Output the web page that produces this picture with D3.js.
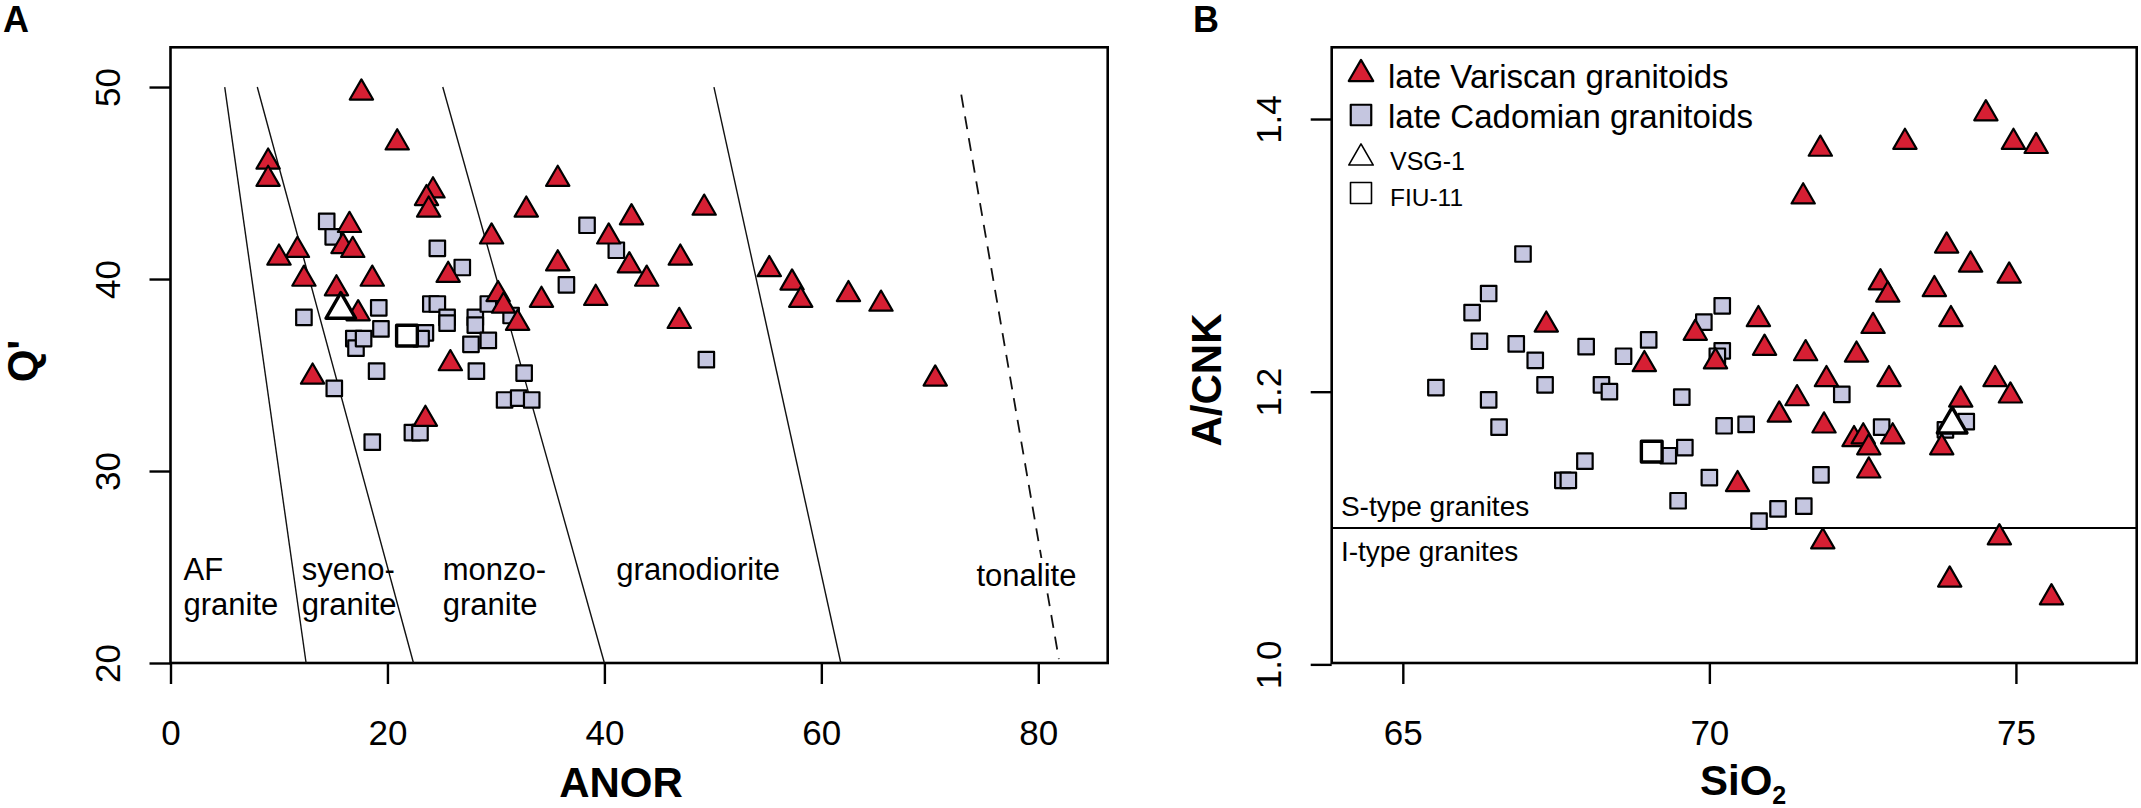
<!DOCTYPE html>
<html>
<head>
<meta charset="utf-8">
<script src="https://cdn.jsdelivr.net/npm/d3@7"></script>
<style>
  body { margin: 0; background: #fff; }
  svg text { font-family: "Liberation Sans", Arial, Helvetica, sans-serif; fill: #000; }
</style>
</head>
<body>
<svg id="chart" width="2141" height="808"></svg>
<script>
// ---- panel A: ANOR vs Q' ----
const anorTicks = [0, 20, 40, 60, 80];
const qTicks = [20, 30, 40, 50];

const varA = [
  [17.6, 49.7], [20.9, 47.1], [9.0, 46.1], [9.0, 45.2], [35.7, 45.2], [24.2, 44.6],
  [23.6, 44.2], [23.8, 43.6], [32.8, 43.6], [49.2, 43.7], [42.5, 43.2], [16.5, 42.8],
  [29.6, 42.2], [40.4, 42.2], [15.9, 41.7], [11.7, 41.5], [10.0, 41.1], [16.8, 41.5],
  [42.3, 40.7], [35.7, 40.8], [47.0, 41.1], [55.2, 40.5], [25.6, 40.2], [12.3, 40.0],
  [18.6, 40.0], [43.9, 40.0], [57.3, 39.8], [15.3, 39.5], [30.2, 39.2], [39.2, 39.0],
  [34.2, 38.9], [58.1, 38.9], [30.7, 38.6], [17.3, 38.2], [46.9, 37.8], [32.0, 37.7],
  [25.8, 35.6], [23.5, 32.7], [13.1, 34.9], [62.5, 39.2], [65.5, 38.7], [70.5, 34.8]
];
const cadA = [
  [14.4, 43.0], [15.0, 42.2], [12.3, 38.0], [16.9, 36.9], [17.1, 36.4], [17.8, 36.9],
  [19.2, 38.5], [19.4, 37.4], [23.5, 37.2], [23.1, 36.9], [26.9, 40.6], [24.6, 41.6],
  [24.0, 38.7], [24.6, 38.7], [25.5, 38.0], [25.5, 37.7], [19.0, 35.2], [28.2, 35.2],
  [22.3, 32.0], [23.0, 32.0], [18.6, 31.5], [28.1, 38.0], [28.1, 37.6], [29.3, 38.7],
  [27.7, 36.6], [29.3, 36.8], [31.4, 38.1], [32.6, 35.1], [30.8, 33.7], [32.1, 33.8],
  [33.3, 33.7], [36.5, 39.7], [38.4, 42.8], [41.1, 41.5], [49.4, 35.8], [15.1, 34.3]
];
const vsgA = [[15.7, 38.4]];
const fiuA = [[21.8, 37.05]];

// field boundaries (ANOR, Q'), top end then bottom end
const fieldLines = [
  [[5.0, 50], [12.5, 20]],
  [[8.0, 50], [22.4, 20]],
  [[25.1, 50], [40.0, 20]],
  [[50.1, 50], [61.8, 20]]
];
const tonaliteLine = [[72.9, 49.6], [81.9, 20.2]];
const fieldLabels = [
  {lines: ["AF", "granite"], anor: 1.2, q: 24.3},
  {lines: ["syeno-", "granite"], anor: 12.1, q: 24.3},
  {lines: ["monzo-", "granite"], anor: 25.1, q: 24.3},
  {lines: ["granodiorite"], anor: 41.1, q: 24.3},
  {lines: ["tonalite"], anor: 74.3, q: 24.0, halo: true}
];

// ---- panel B: SiO2 vs A/CNK ----
const sioTicks = [65, 70, 75];
const acnkTicks = [1.0, 1.2, 1.4];

const varB = [
  [67.34, 1.249], [68.94, 1.220], [69.77, 1.243], [74.51, 1.404], [74.96, 1.383],
  [75.33, 1.380], [73.19, 1.383], [71.81, 1.378], [71.53, 1.343], [73.87, 1.307],
  [74.26, 1.293], [74.89, 1.285], [72.79, 1.280], [72.91, 1.271], [73.67, 1.275],
  [70.80, 1.253], [73.94, 1.253], [72.67, 1.248], [70.90, 1.232], [71.57, 1.228],
  [72.40, 1.227], [70.10, 1.222], [71.91, 1.209], [72.93, 1.209], [74.66, 1.209],
  [74.91, 1.197], [71.43, 1.195], [71.14, 1.183], [71.87, 1.175], [74.10, 1.194],
  [73.79, 1.159], [72.36, 1.165], [72.51, 1.167], [72.60, 1.159], [72.99, 1.167],
  [72.60, 1.142], [70.46, 1.132], [71.85, 1.090], [74.73, 1.093], [73.92, 1.062],
  [75.58, 1.049]
];
const cadB = [
  [66.96, 1.301], [66.40, 1.272], [66.13, 1.258], [66.25, 1.237], [66.85, 1.235],
  [67.16, 1.223], [67.99, 1.233], [68.60, 1.226], [69.01, 1.238], [69.91, 1.251],
  [70.21, 1.263], [65.54, 1.203], [66.40, 1.194], [67.32, 1.205], [68.24, 1.205],
  [68.37, 1.200], [69.55, 1.196], [66.57, 1.174], [67.61, 1.135], [67.70, 1.135],
  [67.97, 1.149], [69.33, 1.153], [69.60, 1.159], [69.49, 1.120], [70.81, 1.105],
  [71.12, 1.114], [71.54, 1.116], [70.00, 1.137], [71.82, 1.139], [70.21, 1.230],
  [70.13, 1.226], [72.16, 1.198], [70.24, 1.175], [70.60, 1.176], [72.81, 1.174],
  [73.85, 1.172], [74.19, 1.178]
];
const vsgB = [[73.96, 1.176]];
const fiuB = [[69.06, 1.156]];
const sIBoundary = 1.1;
const typeLabels = [
  {text: "S-type granites", sio: 63.99, acnk: 1.109},
  {text: "I-type granites", sio: 63.99, acnk: 1.076}
];
const legendItems = [
  {label: "late Variscan granitoids", kind: "var"},
  {label: "late Cadomian granitoids", kind: "cad"},
  {label: "VSG-1", kind: "vsg"},
  {label: "FIU-11", kind: "fiu"}
];

const RED = "#d61f33";
const LAV = "#c5c6e0";

const svg = d3.select("#chart");

let xA = d3.scaleLinear().domain([0, 86.4]).range([170.5, 1107.7]);
let yA = d3.scaleLinear().domain([20, 52.07]).range([663, 47.3]);
let xB = d3.scaleLinear().domain([63.84, 76.97]).range([1331.7, 2136.7]);
let yB = d3.scaleLinear().domain([1.001, 1.4526]).range([663, 47.3]);

const triPath = d3.symbol().type(d3.symbolTriangle).size(235)();
const sqPath = d3.symbol().type(d3.symbolSquare).size(240)();
const bigTri = d3.symbol().type(d3.symbolTriangle).size(380)();
const bigSq = d3.symbol().type(d3.symbolSquare).size(430)();

function drawFrame(x, y, xTicks, yTicks, fmt) {
  const g = svg.append("g");
  const [x0, x1] = x.range();
  const [y0, y1] = y.range();

  g.append("g")
    .attr("transform", "translate(0," + y0 + ")")
    .call(d3.axisBottom(x).tickValues(xTicks).tickSize(21).tickSizeOuter(0))
    .call(a => a.select(".domain").remove())
    .call(a => a.selectAll("line").attr("stroke", "#000").attr("stroke-width", 2.4))
    .call(a => a.selectAll("text")
      .attr("y", 82).attr("dy", null)
      .style("font-size", "35px")
      .style("font-family", "'Liberation Sans', Arial, sans-serif"));

  g.append("g")
    .attr("transform", "translate(" + x0 + ",0)")
    .call(d3.axisLeft(y).tickValues(yTicks).tickSize(21).tickSizeOuter(0).tickFormat(fmt))
    .call(a => a.select(".domain").remove())
    .call(a => a.selectAll("line").attr("stroke", "#000").attr("stroke-width", 2.4))
    .call(a => a.selectAll("text")
      .attr("x", null).attr("dy", null)
      .attr("text-anchor", "middle")
      .attr("transform", "translate(-51,0) rotate(-90)")
      .style("font-size", "35px")
      .style("font-family", "'Liberation Sans', Arial, sans-serif"));

  g.append("rect")
    .attr("x", x0).attr("y", y1)
    .attr("width", x1 - x0).attr("height", y0 - y1)
    .attr("fill", "none")
    .attr("stroke", "#000")
    .attr("stroke-width", 2.6);
  return g;
}

function drawPoints(data, x, y, path, fill, sw) {
  svg.append("g").selectAll("path")
    .data(data)
    .enter()
    .append("path")
    .attr("d", path)
    .attr("transform", d => "translate(" + x(d[0]) + "," + y(d[1]) + ")")
    .attr("fill", fill)
    .attr("stroke", "#000")
    .attr("stroke-width", sw)
    .attr("stroke-linejoin", "round");
}

// ---------- panel A ----------
drawFrame(xA, yA, anorTicks, qTicks, d3.format("d"));

let line = d3.line().x(d => xA(d[0])).y(d => yA(d[1]));
svg.append("g").selectAll("path")
  .data(fieldLines)
  .enter()
  .append("path")
  .attr("d", line)
  .attr("stroke", "#111")
  .attr("stroke-width", 1.4)
  .attr("fill", "none");

svg.append("path")
  .attr("d", line(tonaliteLine))
  .attr("stroke", "#111")
  .attr("stroke-width", 1.8)
  .attr("stroke-dasharray", "13,9")
  .attr("fill", "none");

fieldLabels.forEach(f => {
  let t = svg.append("text")
    .attr("x", xA(f.anor))
    .attr("y", yA(f.q))
    .style("font-size", "31px");
  if (f.halo) {
    // the dashed boundary is broken where the label sits
    t.attr("stroke", "#fff").attr("stroke-width", 10)
      .attr("stroke-linejoin", "round").attr("paint-order", "stroke");
  }
  f.lines.forEach((s, i) => {
    t.append("tspan")
      .attr("x", xA(f.anor))
      .attr("dy", i === 0 ? 0 : 35)
      .text(s);
  });
});

drawPoints(cadA, xA, yA, sqPath, LAV, 2.2);
drawPoints(varA, xA, yA, triPath, RED, 2.2);
drawPoints(fiuA, xA, yA, bigSq, "#fff", 3.4);
drawPoints(vsgA, xA, yA, bigTri, "#fff", 3.4);

svg.append("text")
  .attr("x", 621).attr("y", 797)
  .attr("text-anchor", "middle")
  .style("font-size", "42px").style("font-weight", "bold")
  .text("ANOR");

svg.append("text")
  .attr("transform", "translate(37,361) rotate(-90)")
  .attr("text-anchor", "middle")
  .style("font-size", "42px").style("font-weight", "bold")
  .text("Q'");

svg.append("text")
  .attr("x", 3).attr("y", 32)
  .style("font-size", "36px").style("font-weight", "bold")
  .text("A");

// ---------- panel B ----------
drawFrame(xB, yB, sioTicks, acnkTicks, d3.format(".1f"));

svg.append("line")
  .attr("x1", xB.range()[0]).attr("x2", xB.range()[1])
  .attr("y1", yB(sIBoundary)).attr("y2", yB(sIBoundary))
  .attr("stroke", "#000")
  .attr("stroke-width", 2);

svg.append("g").selectAll("text")
  .data(typeLabels)
  .enter()
  .append("text")
  .attr("x", d => xB(d.sio))
  .attr("y", d => yB(d.acnk))
  .style("font-size", "28px")
  .text(d => d.text);

drawPoints(cadB, xB, yB, sqPath, LAV, 2.2);
drawPoints(varB, xB, yB, triPath, RED, 2.2);
drawPoints(fiuB, xB, yB, bigSq, "#fff", 3.4);
drawPoints(vsgB, xB, yB, bigTri, "#fff", 3.4);

// legend
const legend = svg.append("g").attr("transform", "translate(1361,0)");
const legendRows = [74, 115, 158, 193];
const legendBase = [88, 128, 170, 206];
const legendSize = [33, 33, 25, 24.5];
legendItems.forEach((it, i) => {
  let sym, fill, sw;
  if (it.kind === "var") { sym = d3.symbol().type(d3.symbolTriangle).size(260)(); fill = RED; sw = 2.2; }
  if (it.kind === "cad") { sym = d3.symbol().type(d3.symbolSquare).size(420)(); fill = LAV; sw = 2.2; }
  if (it.kind === "vsg") { sym = d3.symbol().type(d3.symbolTriangle).size(260)(); fill = "#fff"; sw = 1.6; }
  if (it.kind === "fiu") { sym = d3.symbol().type(d3.symbolSquare).size(440)(); fill = "#fff"; sw = 1.6; }
  legend.append("path")
    .attr("d", sym)
    .attr("transform", "translate(0," + legendRows[i] + ")")
    .attr("fill", fill)
    .attr("stroke", "#000")
    .attr("stroke-width", sw)
    .attr("stroke-linejoin", "round");
  legend.append("text")
    .attr("x", i < 2 ? 27 : 29)
    .attr("y", legendBase[i])
    .style("font-size", legendSize[i] + "px")
    .text(it.label);
});

let sio = svg.append("text")
  .attr("x", 1700).attr("y", 795)
  .style("font-size", "42px").style("font-weight", "bold");
sio.append("tspan").text("SiO");
sio.append("tspan").attr("dy", 9).style("font-size", "25px").text("2");

svg.append("text")
  .attr("transform", "translate(1221,380) rotate(-90)")
  .attr("text-anchor", "middle")
  .style("font-size", "42px").style("font-weight", "bold")
  .text("A/CNK");

svg.append("text")
  .attr("x", 1193).attr("y", 32)
  .style("font-size", "36px").style("font-weight", "bold")
  .text("B");
</script>
</body>
</html>
